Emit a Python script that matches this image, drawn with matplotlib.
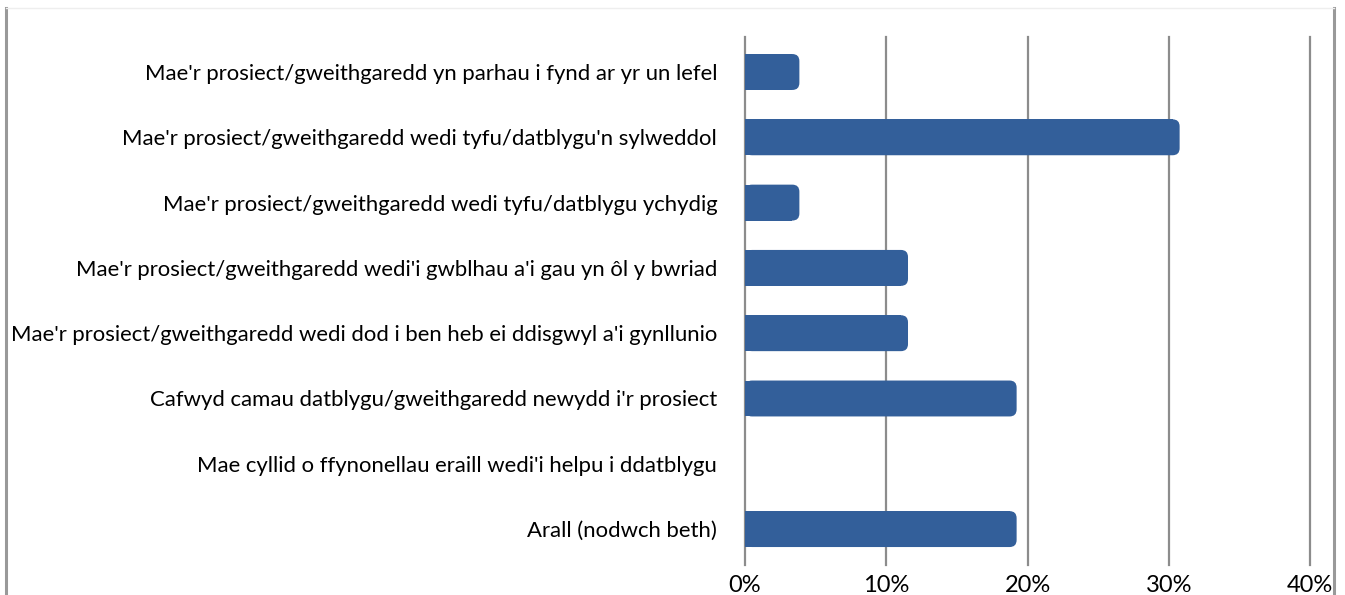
import matplotlib
matplotlib.use("Agg")
from matplotlib import pyplot as plt
from matplotlib.patches import FancyBboxPatch
from matplotlib.lines import Line2D

categories = [
    "Mae'r prosiect/gweithgaredd yn parhau i fynd ar yr un lefel",
    "Mae'r prosiect/gweithgaredd wedi tyfu/datblygu'n sylweddol",
    "Mae'r prosiect/gweithgaredd wedi tyfu/datblygu ychydig",
    "Mae'r prosiect/gweithgaredd wedi'i gwblhau a'i gau yn ôl y bwriad",
    "Mae'r prosiect/gweithgaredd wedi dod i ben heb ei ddisgwyl a'i gynllunio",
    "Cafwyd camau datblygu/gweithgaredd newydd i'r prosiect",
    "Mae cyllid o ffynonellau eraill wedi'i helpu i ddatblygu",
    "Arall (nodwch beth)",
]
values = [3.85, 30.77, 3.85, 11.54, 11.54, 19.23, 0.0, 19.23]
xticks = [0, 10, 20, 30, 40]
xticklabels = ["0%", "10%", "20%", "30%", "40%"]

bar_color = "#335f9a"
grid_color = "#8c8c8c"

plt.rcParams['font.family'] = ['Lato', 'DejaVu Sans']

fig = plt.figure(figsize=(13.45, 5.95), dpi=100)
ax = fig.add_axes([745 / 1345, 30 / 595, 565 / 1345, 528 / 595])

ypos = list(range(len(categories)))
bar_h = 0.55
r = 0.5  # corner radius in x units
aspect = (1 / 65.3) / (1 / 14.13)

for y, v in zip(ypos, values):
    if v <= 0:
        continue
    # square left part
    ax.barh(y, max(v - r, 0), height=bar_h, color=bar_color, zorder=3)
    box = FancyBboxPatch((0, y - bar_h / 2), v, bar_h,
                         boxstyle="round,pad=0,rounding_size=%f" % r,
                         mutation_aspect=aspect,
                         facecolor=bar_color, edgecolor="none", zorder=3)
    ax.add_patch(box)

ax.set_xlim(0, 40)
ax.set_ylim(7.55, -0.536)
ax.set_xticks(xticks)
ax.set_xticklabels(xticklabels, fontsize=17)
ax.set_yticks(ypos)
ax.set_yticklabels(categories, fontsize=15.95)
ax.tick_params(axis="x", length=0, pad=7)
ax.tick_params(axis="y", length=0, pad=20)
for s in ax.spines.values():
    s.set_visible(False)
for t in xticks:
    ax.axvline(t, color=grid_color, lw=1.6, zorder=1, clip_on=False)

# outer frame lines
fig.add_artist(Line2D([6 / 1345, 6 / 1345], [0, 1 - 8 / 595], color="#999999", lw=2.2))
fig.add_artist(Line2D([1334 / 1345, 1334 / 1345], [0, 1 - 8 / 595], color="#999999", lw=2.2))
fig.add_artist(Line2D([6 / 1345, 1334 / 1345], [1 - 8 / 595, 1 - 8 / 595], color="#eeeeee", lw=1))

fig.savefig("out.png", dpi=100)
